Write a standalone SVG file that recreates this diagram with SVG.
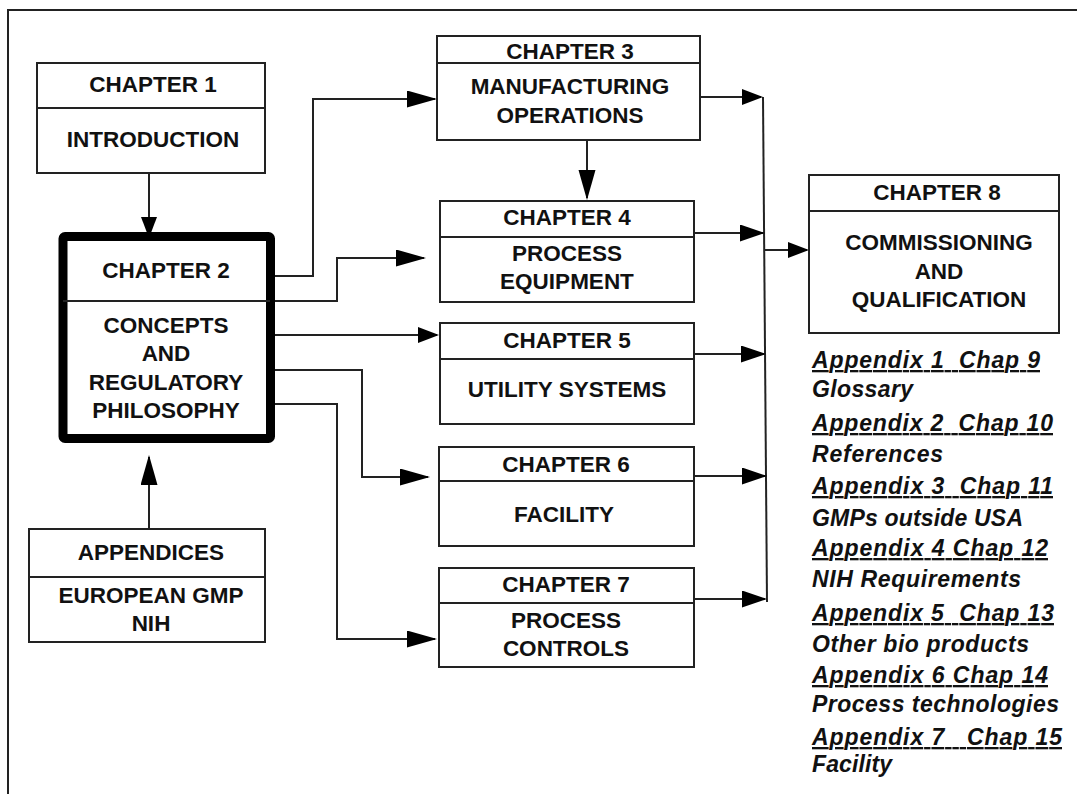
<svg xmlns="http://www.w3.org/2000/svg" width="1077" height="794" viewBox="0 0 1077 794">
<defs>
<style>
.box{fill:#fff;stroke:#222;stroke-width:2}
.div{stroke:#222;stroke-width:2}
.thick{fill:#fff;stroke:#000;stroke-width:9}
.t{font-family:"Liberation Sans",Arial,sans-serif;font-weight:bold;font-size:22.5px;fill:#111;text-anchor:middle}
.ap{font-family:"Liberation Sans",Arial,sans-serif;font-weight:bold;font-style:italic;font-size:23px;fill:#111;white-space:pre}
.u{text-decoration:underline}
.c{fill:none;stroke:#222;stroke-width:2}
</style>
<marker id="ah" markerUnits="userSpaceOnUse" markerWidth="32" markerHeight="18" refX="28" refY="8.5" orient="auto">
<path d="M0,0 L30,8.5 L0,17 z" fill="#000"/>
</marker>
<marker id="am" markerUnits="userSpaceOnUse" markerWidth="28" markerHeight="18" refX="23" refY="8.5" orient="auto">
<path d="M0,0 L25,8.5 L0,17 z" fill="#000"/>
</marker>
<marker id="as" markerUnits="userSpaceOnUse" markerWidth="24" markerHeight="20" refX="19" refY="8" orient="auto">
<path d="M0,0 L21,8 L0,16 z" fill="#000"/>
</marker>
</defs>
<rect width="1077" height="794" fill="#fff"/>
<g id="frame">
<path d="M8,794 L8,10 L1077,10" class="c"/>
</g>
<g id="connectors">
<path class="c" d="M149,173 L149,236" marker-end="url(#as)"/>
<path class="c" d="M149,529 L149,457" marker-end="url(#ah)"/>
<path class="c" d="M587,140 L587,198" marker-end="url(#ah)"/>
<path class="c" d="M272,276 L313,276 L313,99 L435,99" marker-end="url(#ah)"/>
<path class="c" d="M272,301 L337,301 L337,258 L424,258" marker-end="url(#ah)"/>
<path class="c" d="M272,335 L437,335" marker-end="url(#as)"/>
<path class="c" d="M272,370 L362,370 L362,477 L428,477" marker-end="url(#ah)"/>
<path class="c" d="M272,404 L337,404 L337,639 L435,639" marker-end="url(#ah)"/>
<path class="c" d="M763,97 L767,602"/>
<path class="c" d="M700,97 L761,97" marker-end="url(#as)"/>
<path class="c" d="M694,233 L763,233" marker-end="url(#am)"/>
<path class="c" d="M694,354 L764,354" marker-end="url(#am)"/>
<path class="c" d="M694,476 L765,476" marker-end="url(#am)"/>
<path class="c" d="M694,599 L765,599" marker-end="url(#am)"/>
<path class="c" d="M765,250 L807,250" marker-end="url(#as)"/>
</g>
<g id="ch1">
<rect class="box" x="37" y="63" width="228" height="110"/>
<line class="div" x1="37" y1="108" x2="265" y2="108"/>
<text class="t" x="153" y="92">CHAPTER 1</text>
<text class="t" x="153" y="147">INTRODUCTION</text>
</g>
<g id="ch2">
<rect class="thick" x="63" y="236.5" width="207.5" height="202" rx="2"/>
<line class="div" x1="63" y1="301" x2="270" y2="301"/>
<text class="t" x="166" y="278">CHAPTER 2</text>
<text class="t" x="166" y="333">CONCEPTS</text>
<text class="t" x="166" y="361">AND</text>
<text class="t" x="166" y="390">REGULATORY</text>
<text class="t" x="166" y="418">PHILOSOPHY</text>
</g>
<g id="appendices">
<rect class="box" x="29" y="529" width="236" height="113"/>
<line class="div" x1="29" y1="577" x2="265" y2="577"/>
<text class="t" x="151" y="560">APPENDICES</text>
<text class="t" x="151" y="603">EUROPEAN GMP</text>
<text class="t" x="151" y="631">NIH</text>
</g>
<g id="ch3">
<rect class="box" x="437" y="36" width="263" height="104"/>
<line class="div" x1="437" y1="63" x2="700" y2="63"/>
<text class="t" x="570" y="59">CHAPTER 3</text>
<text class="t" x="570" y="94">MANUFACTURING</text>
<text class="t" x="570" y="123">OPERATIONS</text>
</g>
<g id="ch4">
<rect class="box" x="440" y="201" width="254" height="101"/>
<line class="div" x1="440" y1="237" x2="694" y2="237"/>
<text class="t" x="567" y="225">CHAPTER 4</text>
<text class="t" x="567" y="261">PROCESS</text>
<text class="t" x="567" y="289">EQUIPMENT</text>
</g>
<g id="ch5">
<rect class="box" x="440" y="323" width="254" height="101"/>
<line class="div" x1="440" y1="359" x2="694" y2="359"/>
<text class="t" x="567" y="348">CHAPTER 5</text>
<text class="t" x="567" y="397">UTILITY SYSTEMS</text>
</g>
<g id="ch6">
<rect class="box" x="439" y="447" width="255" height="99"/>
<line class="div" x1="439" y1="481" x2="694" y2="481"/>
<text class="t" x="566" y="472">CHAPTER 6</text>
<text class="t" x="564" y="522">FACILITY</text>
</g>
<g id="ch7">
<rect class="box" x="439" y="568" width="255" height="99"/>
<line class="div" x1="439" y1="603" x2="694" y2="603"/>
<text class="t" x="566" y="592">CHAPTER 7</text>
<text class="t" x="566" y="628">PROCESS</text>
<text class="t" x="566" y="656">CONTROLS</text>
</g>
<g id="ch8">
<rect class="box" x="809" y="175" width="250" height="158"/>
<line class="div" x1="809" y1="211" x2="1059" y2="211"/>
<text class="t" x="937" y="200">CHAPTER 8</text>
<text class="t" x="939" y="250">COMMISSIONING</text>
<text class="t" x="939" y="279">AND</text>
<text class="t" x="939" y="307">QUALIFICATION</text>
</g>
<g id="appendix-list">
<text class="ap u" x="812" y="368" textLength="228" lengthAdjust="spacing">Appendix 1  Chap 9</text>
<text class="ap" x="812" y="397" textLength="101" lengthAdjust="spacing">Glossary</text>
<text class="ap u" x="812" y="431" textLength="241" lengthAdjust="spacing">Appendix 2  Chap 10</text>
<text class="ap" x="812" y="462" textLength="131" lengthAdjust="spacing">References</text>
<text class="ap u" x="812" y="494" textLength="241" lengthAdjust="spacing">Appendix 3  Chap 11</text>
<text class="ap" x="812" y="526" textLength="211" lengthAdjust="spacing">GMPs outside USA</text>
<text class="ap u" x="812" y="556" textLength="236" lengthAdjust="spacing">Appendix 4 Chap 12</text>
<text class="ap" x="812" y="587" textLength="209" lengthAdjust="spacing">NIH Requirements</text>
<text class="ap u" x="812" y="621" textLength="242" lengthAdjust="spacing">Appendix 5  Chap 13</text>
<text class="ap" x="812" y="652" textLength="217" lengthAdjust="spacing">Other bio products</text>
<text class="ap u" x="812" y="683" textLength="236" lengthAdjust="spacing">Appendix 6 Chap 14</text>
<text class="ap" x="812" y="712" textLength="247" lengthAdjust="spacing">Process technologies</text>
<text class="ap u" x="812" y="745" textLength="250" lengthAdjust="spacing">Appendix 7   Chap 15</text>
<text class="ap" x="812" y="772" textLength="80" lengthAdjust="spacing">Facility</text>
</g>
</svg>
